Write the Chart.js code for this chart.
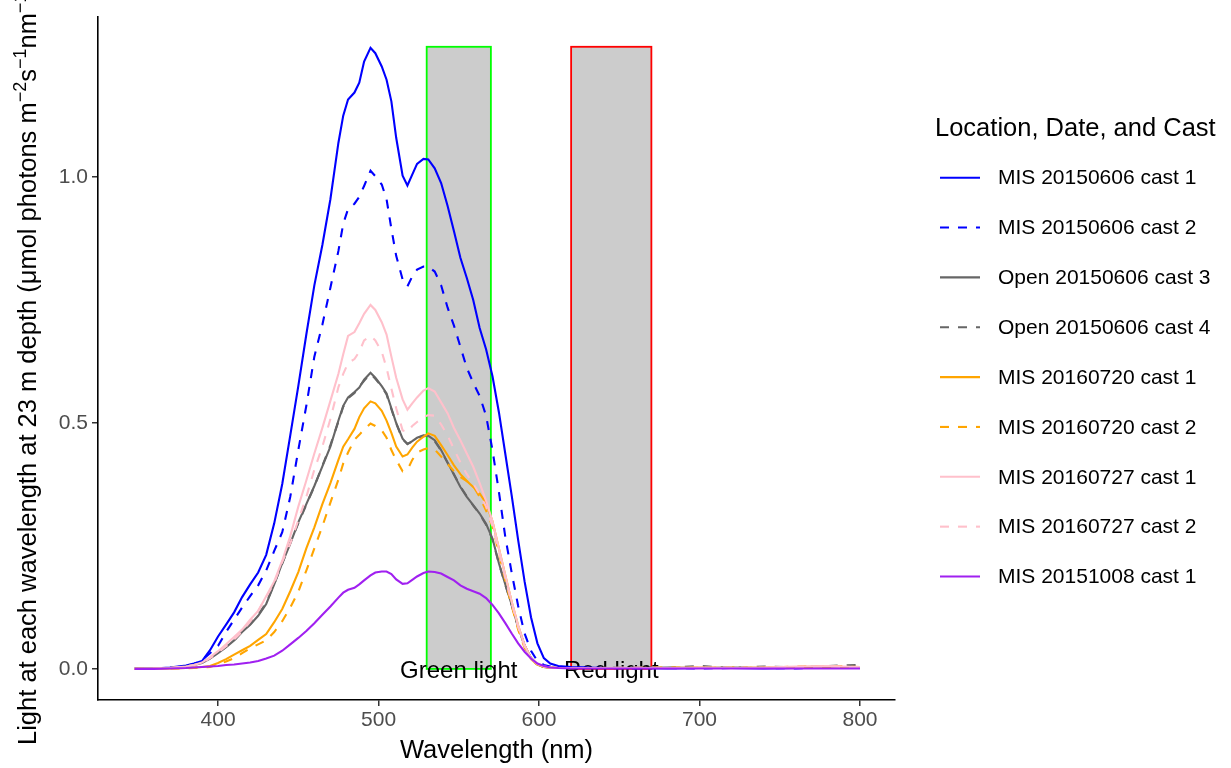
<!DOCTYPE html>
<html>
<head>
<meta charset="utf-8">
<script src="https://cdn.jsdelivr.net/npm/chart.js@4/dist/chart.umd.min.js"></script>
<style>
  html, body { margin: 0; padding: 0; background: #fff; }
  canvas { display: block; }
</style>
</head>
<body>
<canvas id="chart" width="1231" height="768"></canvas>
<script>
// ---------- data ----------
const wavelengths = [
  348, 360, 370, 380,
  385, 390, 395, 400, 405, 410, 415, 420, 425, 430, 435, 440, 445, 450, 455, 460, 465, 470, 475,
  478, 481, 485, 488, 491, 495, 498, 502, 505, 508, 511, 515, 518, 521, 524, 528, 531, 535, 539, 543,
  547, 551, 555, 559, 563, 567, 571, 575, 579, 583, 587, 591, 595, 599, 603, 607, 612, 620,
  640, 660, 680, 700, 720, 740, 760, 780, 800
];

const seriesNames = [
  'MIS 20150606 cast 1', 'MIS 20150606 cast 2', 'Open 20150606 cast 3', 'Open 20150606 cast 4',
  'MIS 20160720 cast 1', 'MIS 20160720 cast 2', 'MIS 20160727 cast 1', 'MIS 20160727 cast 2',
  'MIS 20151008 cast 1'
];

const mis0606c1 = [
  0.000, 0.001, 0.003, 0.007,
  0.011, 0.016, 0.038, 0.066, 0.090, 0.115, 0.146, 0.172, 0.196, 0.232, 0.296, 0.376, 0.475, 0.575, 0.680, 0.780, 0.862, 0.955, 1.070,
  1.125, 1.158, 1.172, 1.192, 1.235, 1.263, 1.252, 1.225, 1.198, 1.154, 1.080, 1.003, 0.983, 1.005, 1.027, 1.037, 1.036, 1.018, 0.988, 0.942,
  0.890, 0.836, 0.795, 0.750, 0.693, 0.650, 0.595, 0.522, 0.437, 0.352, 0.262, 0.178, 0.105, 0.052, 0.022, 0.011, 0.006, 0.004,
  0.002, 0.002, 0.001, 0.002, 0.002, 0.001, 0.002, 0.002, 0.002
];
const mis0606c2 = [
  0.000, 0.001, 0.002, 0.006,
  0.010, 0.018, 0.032, 0.047, 0.075, 0.100, 0.125, 0.148, 0.170, 0.200, 0.240, 0.278, 0.350, 0.445, 0.535, 0.635, 0.700, 0.775, 0.850,
  0.905, 0.935, 0.946, 0.960, 0.982, 1.013, 1.002, 0.985, 0.955, 0.895, 0.840, 0.792, 0.778, 0.798, 0.812, 0.818, 0.818, 0.808, 0.780, 0.735,
  0.698, 0.655, 0.612, 0.582, 0.555, 0.515, 0.445, 0.360, 0.268, 0.195, 0.128, 0.072, 0.037, 0.016, 0.008, 0.005, 0.004, 0.003,
  0.002, 0.001, 0.002, 0.001, 0.002, 0.002, 0.001, 0.003, 0.002
];
const open0606c3 = [
  0.000, 0.001, 0.002, 0.005,
  0.008, 0.012, 0.021, 0.032, 0.044, 0.058, 0.075, 0.090, 0.108, 0.132, 0.172, 0.215, 0.255, 0.298, 0.335, 0.372, 0.412, 0.452, 0.505,
  0.535, 0.552, 0.563, 0.572, 0.588, 0.602, 0.592, 0.575, 0.560, 0.530, 0.500, 0.468, 0.457, 0.463, 0.470, 0.475, 0.474, 0.465, 0.445, 0.420,
  0.395, 0.370, 0.350, 0.333, 0.316, 0.295, 0.265, 0.215, 0.172, 0.130, 0.085, 0.048, 0.022, 0.009, 0.004, 0.003, 0.002, 0.002,
  0.002, 0.002, 0.003, 0.002, 0.003, 0.002, 0.002, 0.004, 0.003
];
const open0606c4 = [
  0.000, 0.001, 0.002, 0.005,
  0.008, 0.013, 0.022, 0.033, 0.045, 0.058, 0.076, 0.091, 0.110, 0.134, 0.173, 0.214, 0.256, 0.296, 0.334, 0.371, 0.413, 0.455, 0.503,
  0.533, 0.550, 0.561, 0.574, 0.586, 0.600, 0.590, 0.574, 0.558, 0.528, 0.499, 0.467, 0.458, 0.462, 0.469, 0.474, 0.473, 0.463, 0.444, 0.419,
  0.396, 0.371, 0.351, 0.332, 0.315, 0.293, 0.263, 0.214, 0.171, 0.129, 0.084, 0.047, 0.022, 0.009, 0.004, 0.003, 0.002, 0.002,
  0.002, 0.003, 0.002, 0.006, 0.002, 0.005, 0.003, 0.006, 0.008
];
const mis0720c1 = [
  0.000, 0.000, 0.001, 0.002,
  0.003, 0.004, 0.006, 0.012, 0.020, 0.029, 0.038, 0.047, 0.059, 0.071, 0.095, 0.122, 0.158, 0.197, 0.245, 0.288, 0.335, 0.378, 0.425,
  0.452, 0.467, 0.488, 0.512, 0.530, 0.544, 0.540, 0.525, 0.505, 0.480, 0.452, 0.432, 0.436, 0.450, 0.462, 0.472, 0.479, 0.474, 0.455, 0.435,
  0.414, 0.396, 0.382, 0.370, 0.357, 0.337, 0.300, 0.245, 0.190, 0.136, 0.088, 0.048, 0.022, 0.009, 0.004, 0.003, 0.002, 0.002,
  0.002, 0.002, 0.002, 0.003, 0.002, 0.003, 0.004, 0.005, 0.003
];
const mis0720c2 = [
  0.000, 0.000, 0.001, 0.001,
  0.002, 0.003, 0.004, 0.009, 0.015, 0.022, 0.032, 0.042, 0.050, 0.058, 0.075, 0.097, 0.125, 0.157, 0.200, 0.245, 0.290, 0.338, 0.385,
  0.418, 0.440, 0.466, 0.476, 0.487, 0.499, 0.494, 0.485, 0.470, 0.445, 0.425, 0.402, 0.405, 0.425, 0.440, 0.446, 0.449, 0.446, 0.432, 0.417,
  0.402, 0.390, 0.382, 0.372, 0.350, 0.322, 0.290, 0.235, 0.180, 0.128, 0.080, 0.043, 0.020, 0.008, 0.004, 0.003, 0.002, 0.002,
  0.002, 0.002, 0.003, 0.002, 0.003, 0.002, 0.005, 0.006, 0.004
];
const mis0727c1 = [
  0.000, 0.001, 0.002, 0.005,
  0.008, 0.013, 0.024, 0.036, 0.050, 0.065, 0.080, 0.100, 0.118, 0.148, 0.178, 0.220, 0.270, 0.330, 0.383, 0.438, 0.490, 0.545, 0.600,
  0.640, 0.677, 0.685, 0.703, 0.722, 0.740, 0.730, 0.705, 0.680, 0.635, 0.592, 0.548, 0.527, 0.540, 0.552, 0.566, 0.571, 0.564, 0.542, 0.520,
  0.490, 0.465, 0.438, 0.411, 0.378, 0.342, 0.300, 0.245, 0.190, 0.136, 0.088, 0.048, 0.022, 0.010, 0.005, 0.003, 0.002, 0.002,
  0.002, 0.002, 0.002, 0.003, 0.002, 0.003, 0.005, 0.006, 0.004
];
const mis0727c2 = [
  0.000, 0.001, 0.002, 0.005,
  0.008, 0.012, 0.022, 0.033, 0.046, 0.060, 0.076, 0.096, 0.118, 0.146, 0.175, 0.218, 0.255, 0.302, 0.350, 0.405, 0.452, 0.508, 0.573,
  0.600, 0.622, 0.630, 0.645, 0.668, 0.677, 0.668, 0.645, 0.612, 0.570, 0.530, 0.485, 0.482, 0.494, 0.502, 0.512, 0.516, 0.515, 0.497, 0.475,
  0.447, 0.420, 0.396, 0.377, 0.355, 0.330, 0.290, 0.238, 0.185, 0.133, 0.085, 0.046, 0.021, 0.009, 0.005, 0.003, 0.002, 0.002,
  0.002, 0.003, 0.002, 0.002, 0.003, 0.002, 0.004, 0.005, 0.003
];
const mis1008c1 = [
  0.000, 0.000, 0.001, 0.002,
  0.003, 0.004, 0.005, 0.006, 0.008, 0.009, 0.011, 0.013, 0.016, 0.021, 0.027, 0.037, 0.050, 0.063, 0.077, 0.093, 0.110, 0.127, 0.145,
  0.155, 0.161, 0.165, 0.172, 0.180, 0.190, 0.196, 0.198, 0.198, 0.193, 0.182, 0.173, 0.174, 0.181, 0.188, 0.195, 0.198, 0.197, 0.194, 0.187,
  0.180, 0.170, 0.163, 0.158, 0.153, 0.144, 0.130, 0.113, 0.093, 0.072, 0.052, 0.035, 0.021, 0.011, 0.006, 0.003, 0.002, 0.001,
  0.001, 0.001, 0.001, 0.001, 0.001, 0.001, 0.001, 0.001, 0.001
];

const seriesValues = [mis0606c1, mis0606c2, open0606c3, open0606c4, mis0720c1, mis0720c2, mis0727c1, mis0727c2, mis1008c1];
const seriesColors = ['#0000FF', '#0000FF', '#666666', '#666666', '#FFA500', '#FFA500', '#FFC0CB', '#FFC0CB', '#A020F0'];
const seriesDashed = [false, true, false, true, false, true, false, true, false];

// light bands (nm) and their labels
const bandNames = ['Green light', 'Red light'];
const bandStart = [530, 620];
const bandEnd = [570, 670];
const bandTop = 1.265;
const bandEdge = ['#00FF00', '#FF0000'];
const bandLabelX = [550, 645];

const xTicks = [400, 500, 600, 700, 800];
const yTicks = [0.0, 0.5, 1.0];

// ---------- helpers ----------
const FONT = '"Liberation Sans", Arial, Helvetica, sans-serif';
const DASH = [9, 9];

const datasets = seriesNames.map((name, i) => ({
  label: name,
  data: wavelengths.map((w, j) => ({ x: w, y: seriesValues[i][j] })),
  borderColor: seriesColors[i],
  backgroundColor: seriesColors[i],
  borderWidth: 2.1,
  borderDash: seriesDashed[i] ? DASH : [],
  pointRadius: 0,
  tension: 0,
  fill: false,
  order: seriesNames.length - i   // later series drawn on top, like ggplot
}));

// grey bands + labels behind the lines
const bandsPlugin = {
  id: 'bands',
  beforeDatasetsDraw(chart) {
    const { ctx, scales: { x, y } } = chart;
    ctx.save();
    bandNames.forEach((name, i) => {
      const x0 = x.getPixelForValue(bandStart[i]);
      const x1 = x.getPixelForValue(bandEnd[i]);
      const y0 = y.getPixelForValue(0);
      const y1 = y.getPixelForValue(bandTop);
      ctx.fillStyle = '#CCCCCC';
      ctx.fillRect(x0, y1, x1 - x0, y0 - y1);
      ctx.strokeStyle = bandEdge[i];
      ctx.lineWidth = 1.8;
      ctx.strokeRect(x0, y1, x1 - x0, y0 - y1);
    });
    ctx.fillStyle = '#000';
    ctx.font = `24px ${FONT}`;
    ctx.textAlign = 'center';
    ctx.textBaseline = 'alphabetic';
    bandNames.forEach((name, i) => {
      ctx.fillText(name, x.getPixelForValue(bandLabelX[i]), y.getPixelForValue(0) + 9);
    });
    ctx.restore();
  }
};

// axis titles + legend, drawn ggplot-style
const decorPlugin = {
  id: 'decor',
  afterDraw(chart) {
    const { ctx, chartArea } = chart;
    ctx.save();

    // x title
    ctx.fillStyle = '#000';
    ctx.font = `25.5px ${FONT}`;
    ctx.textAlign = 'center';
    ctx.textBaseline = 'alphabetic';
    ctx.fillText('Wavelength (nm)', (chartArea.left + chartArea.right) / 2, 758);

    // y title (rotated, runs off the top like the original)
    ctx.save();
    ctx.translate(36, 745);
    ctx.rotate(-Math.PI / 2);
    ctx.textAlign = 'left';
    const parts = [
      ['Light at each wavelength at 23 m depth (', false],
      ['\u03BC', false],
      ['mol photons m', false],
      ['\u22122', true],
      ['s', false],
      ['\u22121', true],
      ['nm', false],
      ['\u22121', true],
      [')', false]
    ];
    let cx = 0;
    parts.forEach(([t, sup]) => {
      ctx.font = sup ? `18px ${FONT}` : `25.5px ${FONT}`;
      ctx.fillText(t, cx, sup ? -10 : 0);
      cx += ctx.measureText(t).width;
    });
    ctx.restore();

    // legend
    ctx.font = `25.5px ${FONT}`;
    ctx.textAlign = 'left';
    ctx.fillText('Location, Date, and Cast', 935, 136);
    ctx.font = `21px ${FONT}`;
    ctx.textBaseline = 'middle';
    chart.data.datasets.forEach((ds, i) => {
      const ly = 177.7 + i * 49.85;
      ctx.strokeStyle = ds.borderColor;
      ctx.lineWidth = 2.1;
      ctx.setLineDash(ds.borderDash || []);
      ctx.beginPath();
      ctx.moveTo(940, ly);
      ctx.lineTo(980, ly);
      ctx.stroke();
      ctx.setLineDash([]);
      ctx.fillStyle = '#000';
      ctx.fillText(ds.label, 998, ly + 1);
    });
    ctx.restore();
  }
};

new Chart(document.getElementById('chart'), {
  type: 'line',
  data: { datasets },
  options: {
    responsive: false,
    animation: false,
    layout: { padding: { top: 15, right: 336, left: 0, bottom: 0 } },
    plugins: { legend: { display: false }, tooltip: { enabled: false } },
    scales: {
      x: {
        type: 'linear',
        min: 325.2,
        max: 821.8,
        afterFit(s) { s.height = 68; },
        afterBuildTicks(s) { s.ticks = xTicks.map(v => ({ value: v })); },
        grid: { drawOnChartArea: false, tickLength: 6, tickColor: '#333333', lineWidth: 1.5 },
        border: { color: '#000', width: 1.6 },
        ticks: { font: { size: 21, family: FONT }, color: '#4D4D4D', padding: 2, maxRotation: 0 }
      },
      y: {
        type: 'linear',
        min: -0.0632,
        max: 1.3264,
        afterFit(s) { s.width = 98; },
        afterBuildTicks(s) { s.ticks = yTicks.map(v => ({ value: v })); },
        grid: { drawOnChartArea: false, tickLength: 6, tickColor: '#333333', lineWidth: 1.5 },
        border: { color: '#000', width: 1.6 },
        ticks: {
          font: { size: 21, family: FONT }, color: '#4D4D4D', padding: 4,
          callback: v => v.toFixed(1)
        }
      }
    }
  },
  plugins: [bandsPlugin, decorPlugin]
});
</script>
</body>
</html>
